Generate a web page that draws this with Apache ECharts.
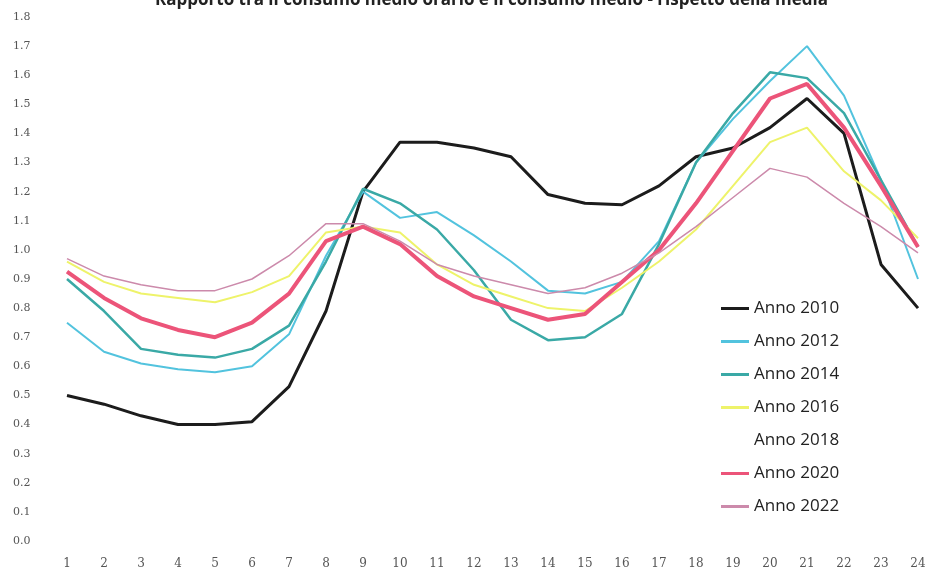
<!DOCTYPE html>
<html>
<head>
<meta charset="utf-8">
<script src="https://cdn.jsdelivr.net/npm/echarts@6/dist/echarts.min.js"></script>
<style>
  html, body { margin: 0; padding: 0; background: #fff; }
  #chart { width: 931px; height: 573px; }
</style>
</head>
<body>
<div id="chart"></div>
<script>
// hours of the day (x categories)
const hours = ['1', '2', '3', '4', '5', '6', '7', '8', '9', '10', '11', '12',
  '13', '14', '15', '16', '17', '18', '19', '20', '21', '22', '23', '24'];

// ratio values
const anno2010 = [0.50, 0.47, 0.43, 0.40, 0.40, 0.41, 0.53, 0.79, 1.20, 1.37, 1.37, 1.35,
  1.32, 1.19, 1.16, 1.155, 1.22, 1.32, 1.35, 1.42, 1.52, 1.40, 0.95, 0.80];
const anno2012 = [0.75, 0.65, 0.61, 0.59, 0.58, 0.60, 0.71, 0.98, 1.20, 1.11, 1.13, 1.05,
  0.96, 0.86, 0.85, 0.89, 1.03, 1.30, 1.45, 1.58, 1.70, 1.53, 1.24, 0.90];
const anno2014 = [0.90, 0.79, 0.66, 0.64, 0.63, 0.66, 0.74, 0.96, 1.21, 1.16, 1.07, 0.93,
  0.76, 0.69, 0.70, 0.78, 1.02, 1.30, 1.47, 1.61, 1.59, 1.47, 1.24, 1.01];
const anno2016 = [0.96, 0.89, 0.85, 0.835, 0.82, 0.855, 0.91, 1.06, 1.08, 1.06, 0.95, 0.88,
  0.84, 0.80, 0.79, 0.87, 0.96, 1.07, 1.22, 1.37, 1.42, 1.27, 1.17, 1.04];
const anno2018 = [];
const anno2020 = [0.925, 0.835, 0.765, 0.725, 0.70, 0.75, 0.85, 1.03, 1.08, 1.02, 0.91, 0.84,
  0.80, 0.76, 0.78, 0.89, 1.00, 1.16, 1.34, 1.52, 1.57, 1.42, 1.22, 1.01];
const anno2022 = [0.97, 0.91, 0.88, 0.86, 0.86, 0.90, 0.98, 1.09, 1.09, 1.03, 0.95, 0.91,
  0.88, 0.85, 0.87, 0.92, 0.99, 1.08, 1.18, 1.28, 1.25, 1.16, 1.08, 0.99];

const yTicks = ['0.0', '0.1', '0.2', '0.3', '0.4', '0.5', '0.6', '0.7', '0.8', '0.9',
  '1.0', '1.1', '1.2', '1.3', '1.4', '1.5', '1.6', '1.7', '1.8'];

const seriesDefs = [
  { name: 'Anno 2010', data: anno2010, color: '#1c1c1c', width: 3 },
  { name: 'Anno 2012', data: anno2012, color: '#52c3de', width: 2 },
  { name: 'Anno 2014', data: anno2014, color: '#3aa9a6', width: 2.5 },
  { name: 'Anno 2016', data: anno2016, color: '#eef36a', width: 2 },
  { name: 'Anno 2018', data: anno2018, color: '#ffffff', width: 2 },
  { name: 'Anno 2020', data: anno2020, color: '#ec5479', width: 4 },
  { name: 'Anno 2022', data: anno2022, color: '#cc8aab', width: 1.5 },
];

const chart = echarts.init(document.getElementById('chart'), null, { renderer: 'canvas' });
chart.setOption({
  backgroundColor: '#ffffff',
  animation: false,
  title: {
    text: 'Rapporto tra il consumo medio orario e il consumo medio - rispetto della media',
    left: 150,
    top: -13,
    textStyle: { fontFamily: 'Open Sans', fontWeight: 'bold', fontSize: 17, color: '#222' },
  },
  legend: {
    orient: 'vertical',
    left: 716,
    top: 295,
    icon: 'rect',
    itemWidth: 28,
    itemHeight: 3,
    itemGap: 16,
    textStyle: { fontFamily: 'Open Sans', fontSize: 17, color: '#222' },
    data: seriesDefs.map(function (s) { return s.name; }),
  },
  grid: { left: 67, right: 13, top: 17, bottom: 32 },
  xAxis: {
    type: 'category',
    data: hours,
    boundaryGap: false,
    axisLine: { show: false },
    axisTick: { show: false },
    axisLabel: { margin: 17, color: '#555', fontFamily: 'DejaVu Serif', fontSize: 12 },
  },
  yAxis: {
    type: 'value',
    min: 0,
    max: 1.8,
    interval: 0.1,
    axisLine: { show: false },
    axisTick: { show: false },
    splitLine: { show: false },
    axisLabel: {
      margin: 54,
      align: 'left',
      color: '#555',
      fontFamily: 'DejaVu Serif',
      fontSize: 11,
      formatter: function (v) { return yTicks[Math.round(v * 10)]; },
    },
  },
  series: seriesDefs.map(function (s) {
    return {
      name: s.name,
      type: 'line',
      data: s.data,
      symbol: 'none',
      color: s.color,
      lineStyle: { color: s.color, width: s.width },
    };
  }),
});
</script>
</body>
</html>
